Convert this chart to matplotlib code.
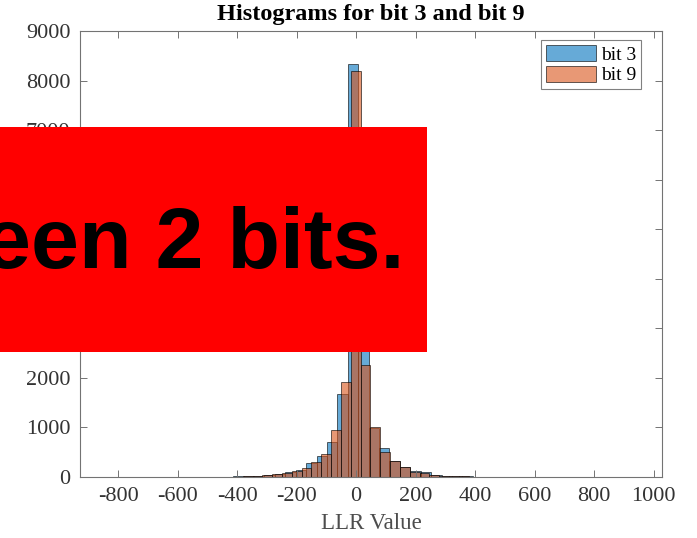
import numpy as np
import matplotlib
matplotlib.use('Agg')
from matplotlib import pyplot as plt
from matplotlib.patches import Rectangle

# bin layout of the two histograms (start edge, width)
bit3_start, bit3_width = -903, 35
bit9_start, bit9_width = -909, 33

bit3_counts = [0, 0, 1, 0, 1, 1, 1, 2, 2, 3, 3, 4, 6, 8, 12, 18,
               30, 45, 70, 100, 150, 277, 431, 715, 1674, 8330, 2650, 990,
               593, 330, 209, 120, 95, 45, 30, 18, 12, 8,
               5, 4, 3, 2, 2, 1, 1, 1, 0, 1, 0, 0, 1, 0, 0, 0, 1]
bit9_counts = [0, 0, 1, 0, 0, 1, 1, 1, 2, 2, 3, 3, 4, 5, 7, 9,
               12, 20, 34, 54, 88, 121, 176, 310, 465, 951, 1917, 8200,
               2270, 1006, 500, 324, 196, 107, 75, 40, 25, 20, 12, 8,
               5, 4, 3, 2, 2, 1, 1, 1, 0, 1, 0, 1, 0, 0, 0, 0, 1, 0]

labels = ['bit 3', 'bit 9']
xticks = [-800, -600, -400, -200, 0, 200, 400, 600, 800, 1000]
yticks = [0, 1000, 2000, 3000, 4000, 5000, 6000, 7000, 8000, 9000]

plt.rcParams['font.family'] = ['Liberation Serif', 'DejaVu Serif']
plt.rcParams['axes.unicode_minus'] = False

fig = plt.figure(figsize=(6.97, 5.38), dpi=100)
ax = fig.add_axes([80/697, 61/538, 582/697, 446/538])

e3 = bit3_start + bit3_width*np.arange(len(bit3_counts))
e9 = bit9_start + bit9_width*np.arange(len(bit9_counts))
ax.bar(e3, bit3_counts, width=bit3_width, align='edge', color=(0, 0.447, 0.741),
       alpha=0.6, edgecolor='black', linewidth=0.7, label=labels[0])
ax.bar(e9, bit9_counts, width=bit9_width, align='edge', color=(0.85, 0.325, 0.098),
       alpha=0.6, edgecolor='black', linewidth=0.7, label=labels[1])

ax.set_xlim(-928, 1028)
ax.set_ylim(0, 9000)
ax.set_xticks(xticks)
ax.set_yticks(yticks)
ax.tick_params(direction='in', top=True, right=True, length=5, width=0.7,
               labelsize=16, colors='0.45', labelcolor='0.2', pad=7)
for s in ax.spines.values():
    s.set_color('0.45'); s.set_linewidth(0.8)
ax.set_title('Histograms for bit 3 and bit 9', fontsize=17.5, fontweight='bold', pad=8)
ax.set_xlabel('LLR Value', fontsize=16.5, color='0.3', labelpad=5)

leg = ax.legend(loc='upper right', bbox_to_anchor=(0.964, 0.98), fontsize=14,
                handlelength=2.6, handleheight=0.9, borderpad=0.25, labelspacing=0.1,
                handletextpad=0.25, fancybox=False, framealpha=1, borderaxespad=0)
leg.get_frame().set_edgecolor('0.5'); leg.get_frame().set_linewidth(0.8)
for h in leg.legend_handles:
    h.set_alpha(0.6); h.set_edgecolor((0, 0, 0, 0.8))

# red overlay box with text
fig.patches.append(Rectangle((0, 186/538), 427/697, 225/538, transform=fig.transFigure,
                             facecolor='#ff0000', edgecolor='none', zorder=10))
fig.text(404/697, 270/538, 'een 2 bits.', ha='right', va='baseline', fontsize=62,
         fontweight='bold', family='Liberation Sans', color='black', zorder=11)

fig.savefig('out.png', dpi=100)
